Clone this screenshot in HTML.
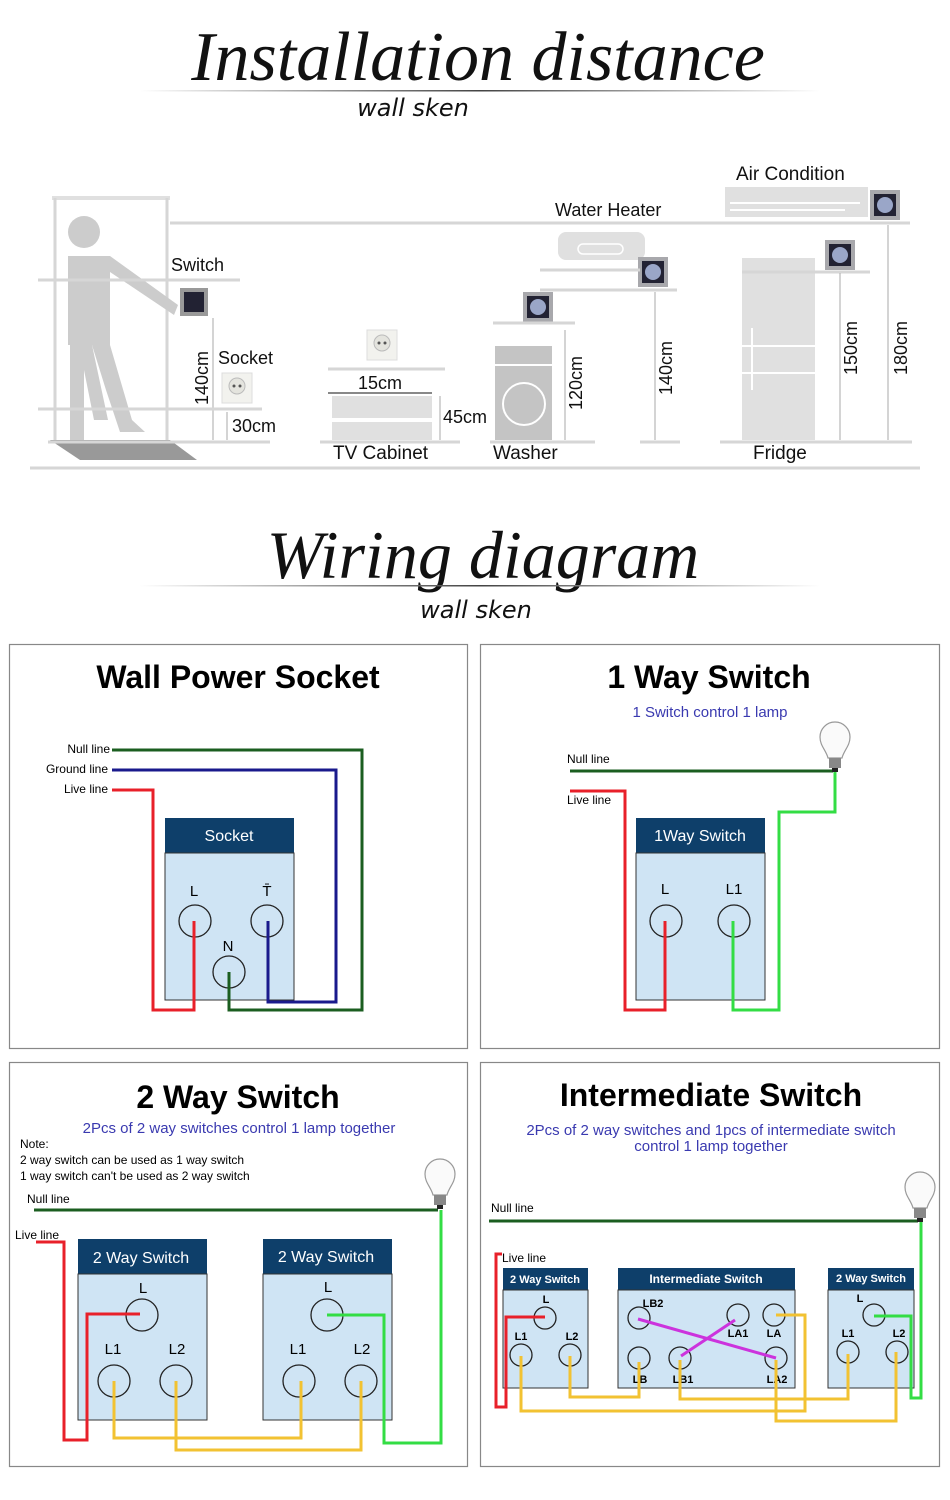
<!DOCTYPE html>
<html><head><meta charset="utf-8"><style>
html,body{margin:0;padding:0;background:#fff;}
svg{display:block;font-family:"Liberation Sans",sans-serif;}
.h{font-size:32px;font-weight:bold;text-anchor:middle;fill:#000}
.s{font-size:15px;fill:#3a3ab0;text-anchor:middle}
.sm{font-size:12px;fill:#000}
.bh{fill:#0e3f6a}
.bb{fill:#cfe4f4;stroke:#333;stroke-width:1}
.bt{fill:#fff;font-size:16px;text-anchor:middle}
.c{fill:none;stroke:#222;stroke-width:1.3}
.w{fill:none;stroke-width:3;stroke-linejoin:miter}
.lb{font-size:15px;text-anchor:middle;fill:#000}
.lbs{font-size:11px;font-weight:bold;text-anchor:middle;fill:#000}
.g{fill:#e0e0e0}
.gl{stroke:#d6d6d6;stroke-width:3;fill:none}
.gt{font-size:19px;fill:#111}
</style></head><body>
<svg width="950" height="1500" viewBox="0 0 950 1500" xmlns="http://www.w3.org/2000/svg">
<defs>
<linearGradient id="lg" x1="0" x2="1"><stop offset="0" stop-color="#fff"/><stop offset="0.5" stop-color="#444"/><stop offset="1" stop-color="#fff"/></linearGradient>
<g id="bulb"><path d="M-7,10 C-9,2 -15,-2 -15,-11 A15,15 0 1 1 15,-11 C15,-2 9,2 7,10 Z" fill="#fafafa" stroke="#999" stroke-width="1.2"/><rect x="-6" y="10" width="12" height="10" fill="#888"/><rect x="-3" y="20" width="6" height="4" fill="#222"/></g>
<g id="sk"><rect width="30" height="30" fill="#a8a8ac"/><rect x="4" y="4" width="22" height="22" fill="#223"/><circle cx="15" cy="15" r="8" fill="#9aa6c8"/></g>
<g id="ws"><rect width="30" height="30" fill="#f2f2ee" stroke="#ddd"/><circle cx="15" cy="13" r="8" fill="#e4e4de" stroke="#bbb"/><circle cx="12" cy="13" r="1.5" fill="#555"/><circle cx="18" cy="13" r="1.5" fill="#555"/></g>
</defs>

<text x="478" y="80" font-family="Liberation Serif,serif" font-style="italic" font-size="70" text-anchor="middle" fill="#111">Installation distance</text>
<rect x="140" y="90" width="680" height="1.5" fill="url(#lg)"/>
<text x="413" y="116" font-family="DejaVu Sans,sans-serif" font-style="italic" font-size="24" text-anchor="middle" fill="#111">wall sken</text>

<g>
<line x1="170" y1="223" x2="910" y2="223" class="gl"/>
<rect x="52" y="196" width="118" height="4" class="g"/>
<line x1="55" y1="198" x2="55" y2="440" class="gl"/>
<line x1="167" y1="198" x2="167" y2="440" class="gl"/>
<polygon points="50,440 170,440 197,460 80,460" fill="#999"/>
<circle cx="84" cy="232" r="16" fill="#ccc"/>
<polygon points="68,256 110,256 178,305 174,315 110,272 110,345 68,345" fill="#ccc"/>
<polygon points="70,345 92,345 108,420 94,420 84,370 84,440 70,440" fill="#ccc"/>
<polygon points="92,345 110,345 132,420 145,432 120,432 106,390" fill="#ccc"/>
<line x1="38" y1="280" x2="240" y2="280" class="gl" stroke-width="2"/>
<text x="171" y="271" class="gt" style="font-size:18px">Switch</text>
<rect x="180" y="288" width="28" height="28" fill="#999"/><rect x="184" y="292" width="20" height="20" fill="#223"/>
<line x1="213" y1="318" x2="213" y2="440" stroke="#aaa"/>
<text transform="translate(208,405) rotate(-90)" class="gt" style="font-size:18px">140cm</text>
<text x="218" y="364" class="gt" style="font-size:18px">Socket</text>
<use href="#ws" x="222" y="373"/>
<line x1="38" y1="409" x2="262" y2="409" class="gl" stroke-width="2"/>
<line x1="227" y1="412" x2="227" y2="440" stroke="#aaa"/>
<text x="232" y="432" class="gt" style="font-size:18px">30cm</text>
<line x1="48" y1="442" x2="270" y2="442" class="gl" stroke-width="2"/>
<line x1="30" y1="468" x2="920" y2="468" class="gl" stroke-width="2"/>

<use href="#ws" x="367" y="330"/>
<line x1="328" y1="369" x2="445" y2="369" class="gl" stroke-width="2"/>
<text x="358" y="389" class="gt" style="font-size:18px">15cm</text>
<line x1="328" y1="393" x2="432" y2="393" stroke="#888" stroke-width="2"/>
<rect x="332" y="396" width="100" height="22" class="g"/>
<rect x="332" y="422" width="100" height="18" class="g"/>
<line x1="440" y1="396" x2="440" y2="440" stroke="#aaa"/>
<text x="443" y="423" class="gt" style="font-size:18px">45cm</text>
<line x1="320" y1="442" x2="460" y2="442" class="gl" stroke-width="2"/>
<text x="333" y="459" class="gt">TV Cabinet</text>

<use href="#sk" x="523" y="292"/>
<line x1="493" y1="323" x2="575" y2="323" class="gl" stroke-width="2"/>
<rect x="495" y="346" width="57" height="18" fill="#c4c4c4"/>
<rect x="495" y="366" width="57" height="74" fill="#c4c4c4"/>
<circle cx="524" cy="404" r="21" fill="none" stroke="#fff" stroke-width="2"/>
<line x1="565" y1="330" x2="565" y2="440" stroke="#aaa"/>
<text transform="translate(582,410) rotate(-90)" class="gt" style="font-size:18px">120cm</text>
<line x1="490" y1="442" x2="595" y2="442" class="gl" stroke-width="2"/>
<text x="493" y="459" class="gt">Washer</text>

<text x="555" y="216" class="gt" style="font-size:18px">Water Heater</text>
<rect x="558" y="232" width="87" height="28" rx="8" class="g"/>
<rect x="578" y="244" width="45" height="10" rx="5" fill="none" stroke="#fff" stroke-width="1.5"/>
<use href="#sk" x="638" y="257"/>
<line x1="540" y1="270" x2="640" y2="270" class="gl" stroke-width="2"/>
<line x1="540" y1="290" x2="677" y2="290" class="gl" stroke-width="2"/>
<line x1="655" y1="292" x2="655" y2="440" stroke="#aaa"/>
<text transform="translate(672,395) rotate(-90)" class="gt" style="font-size:18px">140cm</text>
<line x1="640" y1="442" x2="680" y2="442" class="gl" stroke-width="2"/>

<text x="736" y="180" class="gt">Air Condition</text>
<rect x="725" y="187" width="143" height="30" class="g"/>
<line x1="730" y1="203" x2="860" y2="203" stroke="#fff" stroke-width="2"/>
<line x1="730" y1="210" x2="845" y2="210" stroke="#fff" stroke-width="2"/>
<use href="#sk" x="870" y="190"/>
<rect x="742" y="258" width="73" height="182" class="g"/>
<line x1="742" y1="346" x2="815" y2="346" stroke="#fff" stroke-width="2"/>
<line x1="742" y1="373" x2="815" y2="373" stroke="#fff" stroke-width="2"/>
<line x1="752" y1="328" x2="752" y2="390" stroke="#fff" stroke-width="2"/>
<use href="#sk" x="825" y="240"/>
<line x1="742" y1="272" x2="870" y2="272" class="gl" stroke-width="2"/>
<line x1="840" y1="273" x2="840" y2="440" stroke="#aaa"/>
<text transform="translate(857,375) rotate(-90)" class="gt" style="font-size:18px">150cm</text>
<line x1="888" y1="225" x2="888" y2="440" stroke="#aaa"/>
<text transform="translate(907,375) rotate(-90)" class="gt" style="font-size:18px">180cm</text>
<line x1="720" y1="442" x2="912" y2="442" class="gl" stroke-width="2"/>
<text x="753" y="459" class="gt">Fridge</text>
</g>

<text x="483" y="578" font-family="Liberation Serif,serif" font-style="italic" font-size="68" text-anchor="middle" fill="#111">Wiring diagram</text>
<rect x="140" y="585" width="680" height="1.5" fill="url(#lg)"/>
<text x="476" y="618" font-family="DejaVu Sans,sans-serif" font-style="italic" font-size="24" text-anchor="middle" fill="#111">wall sken</text>

<g fill="#fff" stroke="#888" stroke-width="1.2">
<rect x="9.5" y="644.5" width="458" height="404"/>
<rect x="480.5" y="644.5" width="459" height="404"/>
<rect x="9.5" y="1062.5" width="458" height="404"/>
<rect x="480.5" y="1062.5" width="459" height="404"/>
</g>

<text x="238" y="688" class="h">Wall Power Socket</text>
<text x="110" y="753" class="sm" text-anchor="end">Null line</text>
<text x="108" y="773" class="sm" text-anchor="end">Ground line</text>
<text x="108" y="793" class="sm" text-anchor="end">Live line</text>
<rect x="165" y="818" width="129" height="35" class="bh"/>
<text x="229" y="841" class="bt">Socket</text>
<rect x="165" y="853" width="129" height="147" class="bb"/>
<circle cx="195" cy="921" r="16" class="c"/><circle cx="267" cy="921" r="16" class="c"/><circle cx="229" cy="972" r="16" class="c"/>
<text x="194" y="896" class="lb">L</text><text x="267" y="896" class="lb">T̄</text><text x="228" y="951" class="lb">N</text>
<polyline points="112,750 362,750 362,1010 229,1010 229,972" class="w" stroke="#1b5e20"/>
<polyline points="112,770 336,770 336,1002 268,1002 268,921" class="w" stroke="#1a1a8c"/>
<polyline points="112,790 153,790 153,1010 194,1010 194,921" class="w" stroke="#e8202a"/>

<text x="709" y="688" class="h">1 Way Switch</text>
<text x="710" y="717" class="s">1 Switch control 1 lamp</text>
<text x="567" y="763" class="sm">Null line</text>
<text x="567" y="804" class="sm">Live line</text>
<rect x="636" y="818" width="129" height="35" class="bh"/>
<text x="700" y="841" class="bt">1Way Switch</text>
<rect x="636" y="853" width="129" height="147" class="bb"/>
<circle cx="666" cy="921" r="16" class="c"/><circle cx="734" cy="921" r="16" class="c"/>
<text x="665" y="894" class="lb">L</text><text x="734" y="894" class="lb">L1</text>
<polyline points="570,771 833,771" class="w" stroke="#1b5e20"/>
<polyline points="835,772 835,812 779,812 779,1010 733,1010 733,921" class="w" stroke="#33dd44"/>
<polyline points="570,791 625,791 625,1010 665,1010 665,921" class="w" stroke="#e8202a"/>
<use href="#bulb" x="835" y="748"/>

<text x="238" y="1108" class="h">2 Way Switch</text>
<text x="239" y="1133" class="s">2Pcs of 2 way switches control 1 lamp together</text>
<text x="20" y="1148" class="sm">Note:</text>
<text x="20" y="1164" class="sm">2 way switch can be used as 1 way switch</text>
<text x="20" y="1180" class="sm">1 way switch can't be used as 2 way switch</text>
<text x="27" y="1203" class="sm">Null line</text>
<text x="15" y="1239" class="sm">Live line</text>
<rect x="78" y="1239" width="129" height="35" class="bh"/><text x="141" y="1263" class="bt">2 Way Switch</text>
<rect x="78" y="1274" width="129" height="146" class="bb"/>
<rect x="263" y="1239" width="129" height="35" class="bh"/><text x="326" y="1262" class="bt">2 Way Switch</text>
<rect x="263" y="1274" width="129" height="146" class="bb"/>
<circle cx="142" cy="1315" r="16" class="c"/><circle cx="114" cy="1381" r="16" class="c"/><circle cx="176" cy="1381" r="16" class="c"/>
<circle cx="327" cy="1315" r="16" class="c"/><circle cx="299" cy="1381" r="16" class="c"/><circle cx="361" cy="1381" r="16" class="c"/>
<text x="143" y="1293" class="lb">L</text><text x="113" y="1354" class="lb">L1</text><text x="177" y="1354" class="lb">L2</text>
<text x="328" y="1292" class="lb">L</text><text x="298" y="1354" class="lb">L1</text><text x="362" y="1354" class="lb">L2</text>
<polyline points="34,1210 438,1210" class="w" stroke="#1b5e20"/>
<polyline points="36,1242 64,1242 64,1440 87,1440 87,1314 140,1314" class="w" stroke="#e8202a"/>
<polyline points="114,1381 114,1438 301,1438 301,1381" class="w" stroke="#f2c232"/>
<polyline points="176,1381 176,1450 361,1450 361,1381" class="w" stroke="#f2c232"/>
<polyline points="327,1315 384,1315 384,1443 441,1443 441,1210" class="w" stroke="#33dd44"/>
<use href="#bulb" x="440" y="1185"/>

<text x="711" y="1106" class="h">Intermediate Switch</text>
<text x="711" y="1135" class="s">2Pcs of 2 way switches and 1pcs of intermediate switch</text>
<text x="711" y="1151" class="s">control 1 lamp together</text>
<text x="491" y="1212" class="sm">Null line</text>
<text x="502" y="1262" class="sm">Live line</text>
<rect x="503" y="1268" width="85" height="22" class="bh"/><text x="545" y="1283" class="bt" style="font-size:11px;font-weight:bold">2 Way Switch</text>
<rect x="503" y="1290" width="85" height="98" class="bb"/>
<rect x="618" y="1268" width="177" height="22" class="bh"/><text x="706" y="1283" class="bt" style="font-size:12px;font-weight:bold">Intermediate Switch</text>
<rect x="618" y="1290" width="177" height="98" class="bb"/>
<rect x="828" y="1268" width="86" height="22" class="bh"/><text x="871" y="1282" class="bt" style="font-size:11px;font-weight:bold">2 Way Switch</text>
<rect x="828" y="1290" width="86" height="98" class="bb"/>
<g class="c" stroke-width="1">
<circle cx="545" cy="1318" r="11"/><circle cx="521" cy="1355" r="11"/><circle cx="570" cy="1355" r="11"/>
<circle cx="639" cy="1318" r="11"/><circle cx="738" cy="1315" r="11"/><circle cx="774" cy="1315" r="11"/>
<circle cx="639" cy="1358" r="11"/><circle cx="680" cy="1358" r="11"/><circle cx="776" cy="1358" r="11"/>
<circle cx="874" cy="1315" r="11"/><circle cx="848" cy="1352" r="11"/><circle cx="897" cy="1352" r="11"/>
</g>
<text x="546" y="1303" class="lbs">L</text><text x="521" y="1340" class="lbs">L1</text><text x="572" y="1340" class="lbs">L2</text>
<text x="653" y="1307" class="lbs">LB2</text><text x="738" y="1337" class="lbs">LA1</text><text x="774" y="1337" class="lbs">LA</text>
<text x="640" y="1383" class="lbs">LB</text><text x="683" y="1383" class="lbs">LB1</text><text x="777" y="1383" class="lbs">LA2</text>
<text x="860" y="1302" class="lbs">L</text><text x="848" y="1337" class="lbs">L1</text><text x="899" y="1337" class="lbs">L2</text>
<polyline points="489,1221 918,1221" class="w" stroke="#1b5e20"/>
<polyline points="502,1254 496,1254 496,1407 506,1407 506,1317 545,1317" class="w" stroke="#e8202a"/>
<line x1="638" y1="1319" x2="776" y2="1358" stroke="#cc33dd" stroke-width="3"/>
<line x1="681" y1="1356" x2="735" y2="1320" stroke="#cc33dd" stroke-width="3"/>
<polyline points="521,1356 521,1411 805,1411 805,1315 776,1315" class="w" stroke="#f2c232"/>
<polyline points="570,1356 570,1397 639,1397 639,1362" class="w" stroke="#f2c232"/>
<polyline points="680,1360 680,1399 848,1399 848,1354" class="w" stroke="#f2c232"/>
<polyline points="776,1360 776,1421 896,1421 896,1352" class="w" stroke="#f2c232"/>
<polyline points="874,1316 911,1316 911,1398 921,1398 921,1221" class="w" stroke="#33dd44"/>
<use href="#bulb" x="920" y="1198"/>
</svg>
</body></html>
